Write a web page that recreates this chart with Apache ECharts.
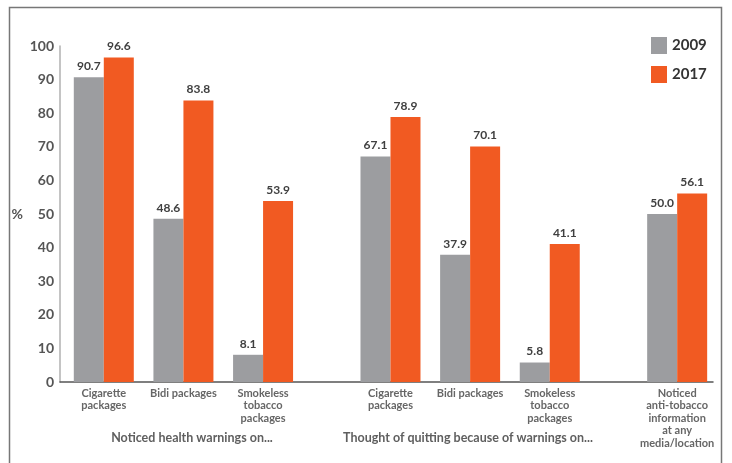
<!DOCTYPE html>
<html>
<head>
<meta charset="utf-8">
<script src="https://cdn.jsdelivr.net/npm/echarts@6/dist/echarts.min.js"></script>
<style>
html,body{margin:0;padding:0;background:#fff;}
#chart{width:732px;height:463px;}
</style>
</head>
<body>
<div id="chart"></div>
<script>
// ---- data ----
var categories = [
  'Cigarette\npackages',
  'Bidi packages',
  'Smokeless\ntobacco\npackages',
  'Cigarette\npackages',
  'Bidi packages',
  'Smokeless\ntobacco\npackages',
  'Noticed\nanti-tobacco\ninformation\nat any\nmedia/location'
];
var values2009 = [90.7, 48.6, 8.1, 67.1, 37.9, 5.8, 50.0];
var values2017 = [96.6, 83.8, 53.9, 78.9, 70.1, 41.1, 56.1];
var seriesNames = ['2009', '2017'];
var groupLabels = ['Noticed health warnings on...', 'Thought of quitting because of warnings on...'];
var yTicks = [0, 10, 20, 30, 40, 50, 60, 70, 80, 90, 100];

// ---- layout (slot positions on a padded category axis) ----
var slotIndex = [5, 15, 25, 41, 51, 61, 77];
var slotCount = 82;

var axisData = [], d2009 = [], d2017 = [];
for (var i = 0; i < slotCount; i++) { axisData.push(''); d2009.push('-'); d2017.push('-'); }
slotIndex.forEach(function (s, k) {
  axisData[s] = categories[k];
  d2009[s] = values2009[k];
  d2017[s] = values2017[k];
});

var FONT = 'Lato, "Open Sans", sans-serif';
var chart = echarts.init(document.getElementById('chart'));
var labelCfg = {
  show: true, position: 'top', distance: 5,
  fontFamily: FONT, fontSize: 12, fontWeight: 'bold', color: '#404040',
  formatter: function (p) { return p.value.toFixed(1); }
};
chart.setOption({
  animation: false,
  backgroundColor: '#fff',
  grid: { left: 60, right: 19, top: 46, bottom: 81, containLabel: false },
  legend: {
    data: seriesNames, orient: 'vertical', left: 646, top: 32,
    itemWidth: 16, itemHeight: 17, itemGap: 12,
    icon: 'rect',
    textStyle: { fontFamily: FONT, fontSize: 15, fontWeight: 'bold', color: '#333' }
  },
  xAxis: {
    type: 'category', data: axisData, boundaryGap: true,
    axisLine: { lineStyle: { color: '#555', width: 1.5 } },
    axisTick: { show: false },
    axisLabel: {
      interval: 0, margin: 5, fontFamily: FONT, fontSize: 11, lineHeight: 12.5,
      color: '#666', fontWeight: 'bold', align: 'center'
    }
  },
  yAxis: {
    type: 'value', min: yTicks[0], max: yTicks[yTicks.length - 1], interval: 10,
    name: '%', nameLocation: 'middle', nameRotate: 0, nameGap: 37,
    nameTextStyle: { fontFamily: FONT, fontSize: 14, fontWeight: 'bold', color: '#555' },
    axisLine: { show: true, lineStyle: { color: '#b0b0b0', width: 1.5 } },
    axisTick: { show: false },
    splitLine: { show: false },
    axisLabel: { fontFamily: FONT, fontSize: 14, fontWeight: 'bold', color: '#555', margin: 6 }
  },
  series: [
    { name: seriesNames[0], type: 'bar', data: d2009, barWidth: 30, barGap: '0%',
      itemStyle: { color: '#9c9da0' }, label: labelCfg },
    { name: seriesNames[1], type: 'bar', data: d2017, barWidth: 30, barGap: '0%',
      itemStyle: { color: '#f15a22' }, label: labelCfg }
  ],
  graphic: [
    { type: 'rect', left: 7, top: 5, shape: { width: 712, height: 470 },
      style: { fill: 'none', stroke: '#777', lineWidth: 1.5 }, silent: true },
    { type: 'text', x: 192, y: 438,
      style: { text: groupLabels[0], fontFamily: FONT, fontSize: 12.5, fontWeight: 'bold', fill: '#5f5f5f',
        textAlign: 'center', textVerticalAlign: 'middle' } },
    { type: 'text', x: 468, y: 438,
      style: { text: groupLabels[1], fontFamily: FONT, fontSize: 12.5, fontWeight: 'bold', fill: '#5f5f5f',
        textAlign: 'center', textVerticalAlign: 'middle' } }
  ]
});
</script>
</body>
</html>
